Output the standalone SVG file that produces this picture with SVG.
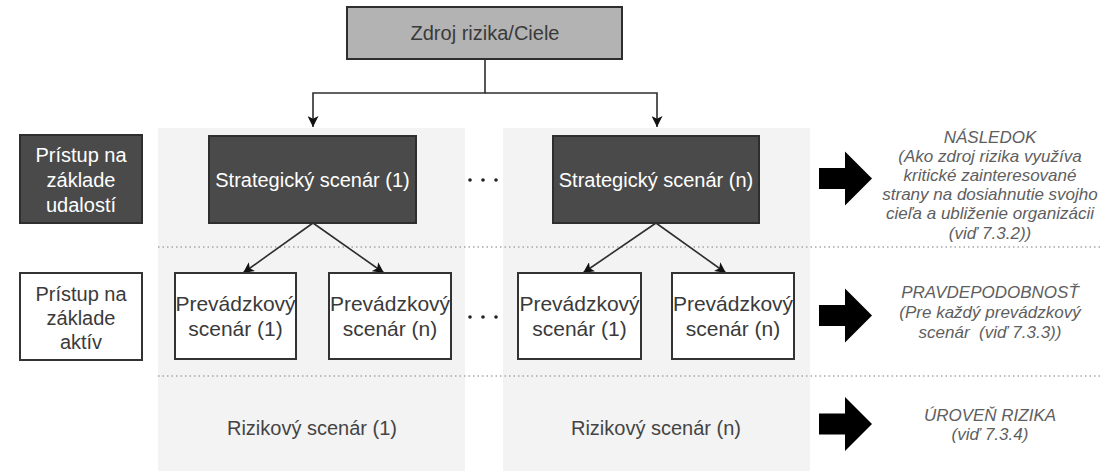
<svg xmlns="http://www.w3.org/2000/svg" width="1102" height="476" viewBox="0 0 1102 476">
<defs>
<style>
.t{font-family:"Liberation Sans",Arial,sans-serif;font-size:20px;text-anchor:middle}
.p{font-size:21px}
.w{fill:#ffffff}
.d{fill:#3a3a3a}
.r{fill:#444444}
.i{font-family:"Liberation Sans",Arial,sans-serif;font-size:17px;font-style:italic;text-anchor:middle;fill:#5e5e5e}
.dark{fill:#4a4a4a;stroke:#2e2e2e;stroke-width:2}
.white{fill:#ffffff;stroke:#333333;stroke-width:2}
.panel{fill:#f3f3f3}
.conn{fill:none;stroke:#2e2e2e;stroke-width:1.6}
.dot{stroke:#a8a8a8;stroke-width:1.5;stroke-dasharray:1.5 3}
.big{fill:#000000}
</style>
<marker id="ah" viewBox="0 0 10 10" refX="10" refY="5" markerWidth="11" markerHeight="11" markerUnits="userSpaceOnUse" orient="auto">
<path d="M0,0 L10,5 L0,10 L2.5,5 Z" fill="#111111"/>
</marker>
</defs>
<rect width="1102" height="476" fill="#ffffff"/>
<g id="panels">
<rect class="panel" x="158" y="128" width="307" height="343"/>
<rect class="panel" x="503" y="128" width="307" height="343"/>
</g>
<g id="separators">
<line class="dot" x1="158" y1="247" x2="1102" y2="247"/>
<line class="dot" x1="158" y1="376" x2="1102" y2="376"/>
</g>
<g id="connectors">
<polyline class="conn" points="485,59 485,93 313,93 313,127" marker-end="url(#ah)"/>
<polyline class="conn" points="485,93 657,93 657,127" marker-end="url(#ah)"/>
<line class="conn" x1="313" y1="223" x2="243" y2="273" marker-end="url(#ah)"/>
<line class="conn" x1="313" y1="223" x2="384" y2="273" marker-end="url(#ah)"/>
<line class="conn" x1="656" y1="223" x2="583" y2="273" marker-end="url(#ah)"/>
<line class="conn" x1="656" y1="223" x2="726" y2="273" marker-end="url(#ah)"/>
</g>
<g id="zdroj">
<rect x="347" y="7" width="275" height="52" fill="#b3b3b3" stroke="#2e2e2e" stroke-width="2"/>
<text class="t d" x="485" y="40">Zdroj rizika/Ciele</text>
</g>
<g id="pristup-udalosti">
<rect class="dark" x="20" y="135" width="122" height="88"/>
<text class="t w" x="81" y="162">Prístup na</text>
<text class="t w" x="81" y="187">základe</text>
<text class="t w" x="81" y="212">udalostí</text>
</g>
<g id="pristup-aktiv">
<rect class="white" x="20" y="273" width="122" height="87"/>
<text class="t d" x="81" y="301">Prístup na</text>
<text class="t d" x="81" y="325">základe</text>
<text class="t d" x="81" y="349">aktív</text>
</g>
<g id="strat1">
<rect class="dark" x="209" y="136" width="207" height="87"/>
<text class="t w" x="312.5" y="187">Strategický scenár (1)</text>
</g>
<g id="stratn">
<rect class="dark" x="553" y="136" width="206" height="87"/>
<text class="t w" x="656" y="187">Strategický scenár (n)</text>
</g>
<g id="dots">
<circle cx="470" cy="180" r="1.8" fill="#222"/><circle cx="483" cy="180" r="1.8" fill="#222"/><circle cx="496" cy="180" r="1.8" fill="#222"/>
<circle cx="470" cy="317" r="1.8" fill="#222"/><circle cx="483" cy="317" r="1.8" fill="#222"/><circle cx="496" cy="317" r="1.8" fill="#222"/>
</g>
<g id="prev1a">
<rect class="white" x="175" y="273" width="121" height="86"/>
<text class="t p d" x="235.5" y="311">Prevádzkový</text>
<text class="t p d" x="235.5" y="336">scenár (1)</text>
</g>
<g id="prevna">
<rect class="white" x="329" y="273" width="122" height="86"/>
<text class="t p d" x="390" y="311">Prevádzkový</text>
<text class="t p d" x="390" y="336">scenár (n)</text>
</g>
<g id="prev1b">
<rect class="white" x="518" y="273" width="123" height="86"/>
<text class="t p d" x="579.5" y="311">Prevádzkový</text>
<text class="t p d" x="579.5" y="336">scenár (1)</text>
</g>
<g id="prevnb">
<rect class="white" x="672" y="273" width="122" height="86"/>
<text class="t p d" x="733" y="311">Prevádzkový</text>
<text class="t p d" x="733" y="336">scenár (n)</text>
</g>
<g id="riz1">
<text class="t r" x="312" y="435">Rizikový scenár (1)</text>
</g>
<g id="rizn">
<text class="t r" x="656" y="435">Rizikový scenár (n)</text>
</g>
<g id="bigarrows">
<polygon class="big" points="819,168 845,168 845,151.5 872,178.5 845,205.5 845,189 819,189"/>
<polygon class="big" points="819,305 845,305 845,288.5 872,315.5 845,342.5 845,326 819,326"/>
<polygon class="big" points="819,413.5 845,413.5 845,397 872,424 845,451 845,434.5 819,434.5"/>
</g>
<g id="nasledok">
<text class="i" x="990" y="143">NÁSLEDOK</text>
<text class="i" x="990" y="162">(Ako zdroj rizika využíva</text>
<text class="i" x="990" y="181">kritické zainteresované</text>
<text class="i" x="990" y="200">strany na dosiahnutie svojho</text>
<text class="i" x="990" y="219">cieľa a ubliženie organizácii</text>
<text class="i" x="990" y="239">(viď 7.3.2))</text>
</g>
<g id="pravdepodobnost">
<text class="i" x="990" y="298">PRAVDEPODOBNOSŤ</text>
<text class="i" x="990" y="318">(Pre každý prevádzkový</text>
<text class="i" x="990" y="338">scenár&#160; (viď 7.3.3))</text>
</g>
<g id="uroven">
<text class="i" x="990" y="421">ÚROVEŇ RIZIKA</text>
<text class="i" x="990" y="440">(viď 7.3.4)</text>
</g>
</svg>
